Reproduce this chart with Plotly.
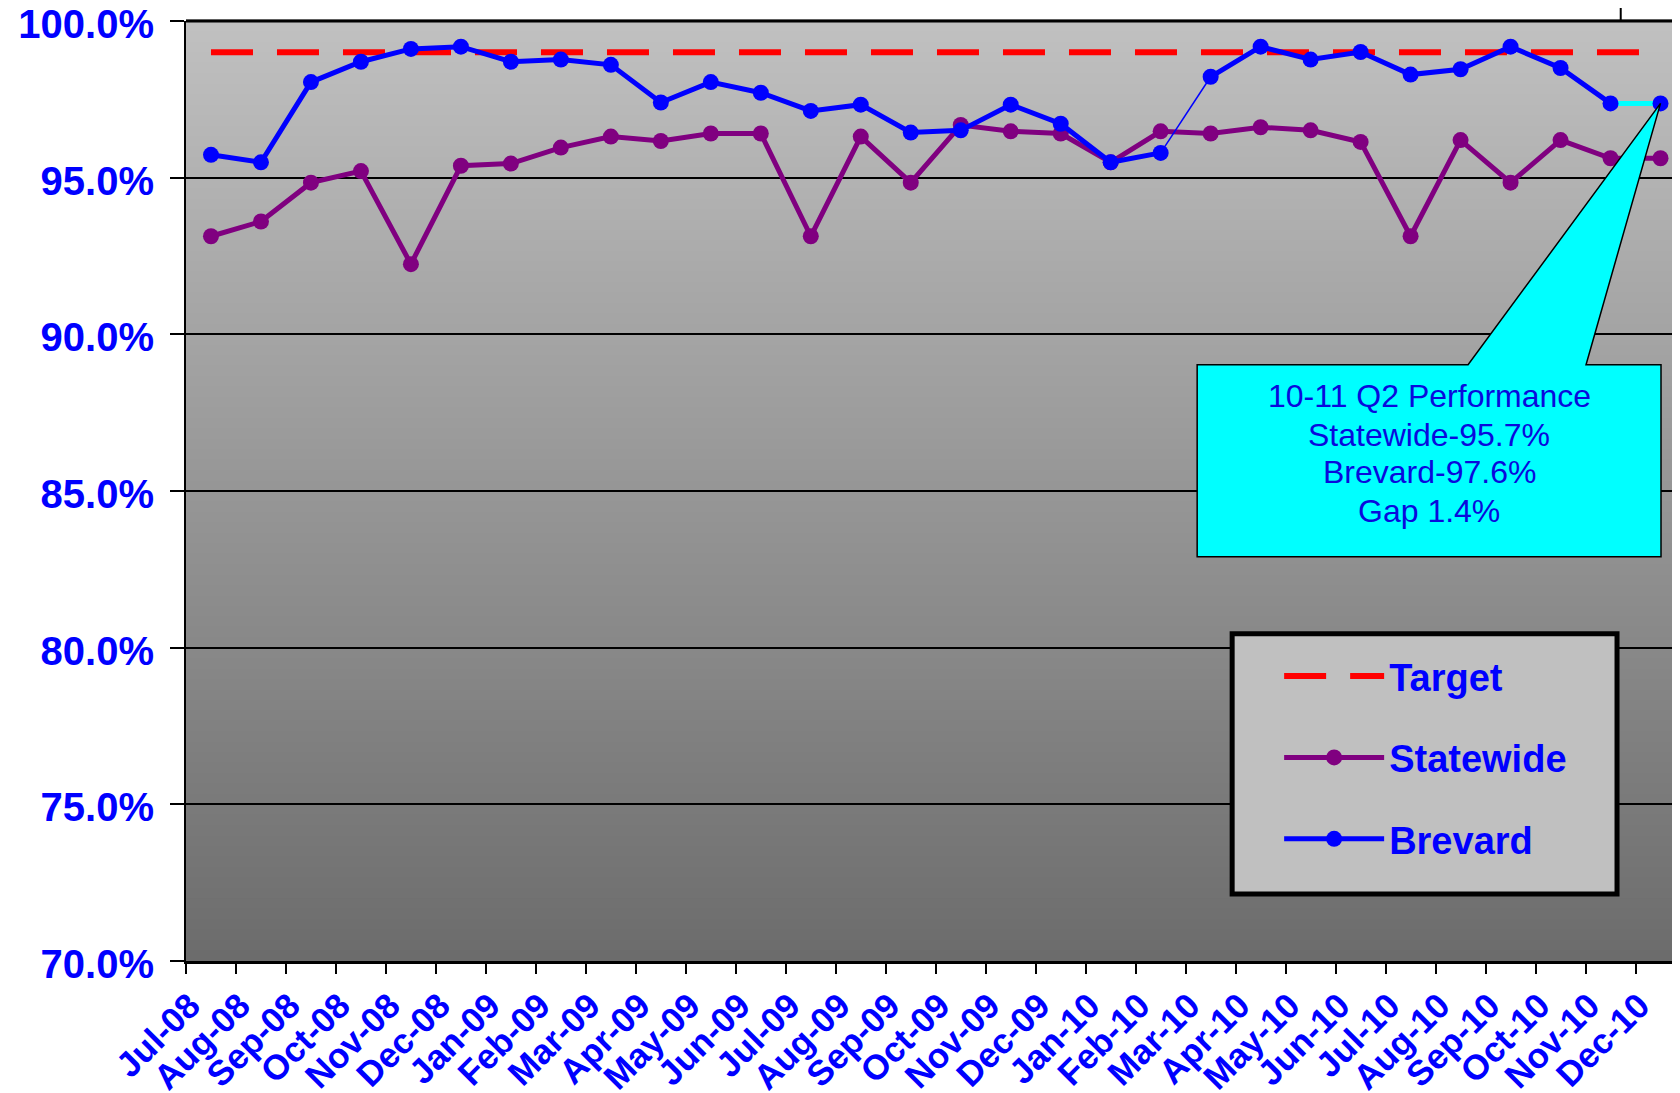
import plotly.graph_objects as go

# ---------------- data ----------------
months = ["Jul-08", "Aug-08", "Sep-08", "Oct-08", "Nov-08", "Dec-08",
          "Jan-09", "Feb-09", "Mar-09", "Apr-09", "May-09", "Jun-09",
          "Jul-09", "Aug-09", "Sep-09", "Oct-09", "Nov-09", "Dec-09",
          "Jan-10", "Feb-10", "Mar-10", "Apr-10", "May-10", "Jun-10",
          "Jul-10", "Aug-10", "Sep-10", "Oct-10", "Nov-10", "Dec-10"]

target = [99.0, 99.0, 99.0, 99.0, 99.0, 99.0, 99.0, 99.0, 99.0, 99.0,
          99.0, 99.0, 99.0, 99.0, 99.0, 99.0, 99.0, 99.0, 99.0, 99.0,
          99.0, 99.0, 99.0, 99.0, 99.0, 99.0, 99.0, 99.0, 99.0, 99.0]

statewide = [93.13, 93.60, 94.84, 95.21, 92.24, 95.38, 95.45, 95.96, 96.31, 96.17,
             96.41, 96.41, 93.13, 96.31, 94.84, 96.68, 96.48, 96.41, 95.49, 96.48,
             96.41, 96.61, 96.51, 96.14, 93.13, 96.20, 94.84, 96.20, 95.62, 95.62]

brevard = [95.73, 95.49, 98.05, 98.70, 99.11, 99.18, 98.70, 98.77, 98.60, 97.40,
           98.05, 97.71, 97.13, 97.33, 96.44, 96.51, 97.33, 96.72, 95.49, 95.79,
           98.22, 99.18, 98.77, 99.01, 98.29, 98.46, 99.18, 98.50, 97.37, 97.37]

callout_lines = ["10-11 Q2 Performance", "Statewide-95.7%", "Brevard-97.6%", "Gap 1.4%"]

# ---------------- styles ----------------
FONT = "Liberation Sans, Arial, sans-serif"
BLUE = "#0000FF"
PURPLE = "#800080"
RED = "#FF0000"
CYAN = "#00FFFF"
LW = 5
MS = 16

# plot-area geometry in screen pixels (page has an 8px body margin)
PL, PT, PW, PH = 185.5, 21.4, 1494.5, 939.6


def px(xp):
    return (xp - PL) / PW


def py(yp):
    return 1 - (yp - PT) / PH


fig = go.Figure()

fig.add_trace(go.Scatter(
    x=months, y=target, name="Target", mode="lines",
    line=dict(color=RED, width=6, dash="42px,24px"),
    legendgroup="t", hoverinfo="skip"))

fig.add_trace(go.Scatter(
    x=months, y=statewide, name="Statewide", mode="lines+markers",
    line=dict(color=PURPLE, width=LW), marker=dict(color=PURPLE, size=MS),
    legendgroup="s"))

# Brevard: thick first part
fig.add_trace(go.Scatter(
    x=months[0:20], y=brevard[0:20], name="Brevard", mode="lines+markers",
    line=dict(color=BLUE, width=LW), marker=dict(color=BLUE, size=MS),
    legendgroup="b"))
# thin connector Feb-10 -> Mar-10
fig.add_trace(go.Scatter(
    x=months[19:21], y=brevard[19:21], mode="lines", showlegend=False,
    line=dict(color=BLUE, width=1.5), legendgroup="b", hoverinfo="skip"))
# cyan connector Nov-10 -> Dec-10
fig.add_trace(go.Scatter(
    x=months[28:30], y=brevard[28:30], mode="lines", showlegend=False,
    line=dict(color=CYAN, width=LW), legendgroup="b", hoverinfo="skip"))
# thick second part
fig.add_trace(go.Scatter(
    x=months[20:29], y=brevard[20:29], mode="lines+markers", showlegend=False,
    line=dict(color=BLUE, width=LW), marker=dict(color=BLUE, size=MS),
    legendgroup="b"))
# last point
fig.add_trace(go.Scatter(
    x=months[29:30], y=brevard[29:30], mode="markers", showlegend=False,
    marker=dict(color=BLUE, size=MS), legendgroup="b"))

# ---------------- background gradient ----------------
shapes = []
N = 90
top_c, bot_c = 192, 108
for i in range(N):
    f = (i + 0.5) / N
    c = int(round(bot_c + (top_c - bot_c) * f))
    shapes.append(dict(type="rect", xref="paper", yref="paper",
                       x0=0, x1=1, y0=i / N, y1=(i + 1) / N + 0.002,
                       fillcolor=f"rgb({c},{c},{c})", line=dict(width=0),
                       layer="below"))

# top border of plot area
shapes.append(dict(type="line", xref="paper", yref="paper", x0=0, x1=1, y0=1, y1=1,
                   line=dict(color="black", width=3), layer="above"))
# small vertical line above plot (frame of outer element)
shapes.append(dict(type="line", xref="paper", yref="paper", x0=px(1620.7), x1=px(1620.7),
                   y0=1, y1=1.03, line=dict(color="black", width=2), layer="above"))

# callout (box + wedge pointing at last Brevard point)
tip_x = len(months) - 1
tip_y = brevard[-1]
path = (f"M 19.73,89.03 L 25.15,89.03 L {tip_x},{tip_y} L 27.51,89.03 "
        f"L 29.01,89.03 L 29.01,82.90 L 19.73,82.90 Z")
shapes.append(dict(type="path", xref="x", yref="y", path=path,
                   fillcolor=CYAN, line=dict(color="black", width=1.5), layer="above"))

# legend box
shapes.append(dict(type="rect", xref="paper", yref="paper",
                   x0=px(1232), x1=px(1617), y0=py(894), y1=py(634),
                   fillcolor="#C0C0C0", line=dict(color="black", width=5), layer="above"))

annotations = []
line_y = [396.4, 435.0, 472.5, 511.0]
for txt, yy in zip(callout_lines, line_y):
    annotations.append(dict(
        xref="paper", yref="paper", x=px(1429), y=py(yy),
        text=txt, showarrow=False, align="center",
        xanchor="center", yanchor="middle",
        font=dict(family=FONT, size=32, color="#0A0ADC")))

fig.update_layout(
    width=1672, height=1085,
    margin=dict(l=PL - 8, r=0, t=PT - 8, b=132, pad=0),
    paper_bgcolor="white", plot_bgcolor="#A0A0A0",
    font=dict(family=FONT, color=BLUE),
    shapes=shapes, annotations=annotations,
    showlegend=True,
    legend=dict(
        x=px(1279), y=py(645),
        xanchor="left", yanchor="top",
        bgcolor="rgba(0,0,0,0)", borderwidth=0,
        font=dict(family=FONT, size=38, color=BLUE, weight="bold"),
        traceorder="grouped", tracegroupgap=29, itemwidth=100,
    ),
)

fig.update_xaxes(
    type="category", range=[-0.5, 29.39], tickson="boundaries",
    ticks="outside", ticklen=10, tickwidth=2, tickcolor="black",
    showline=True, linecolor="black", linewidth=3,
    showgrid=False, zeroline=False,
    tickangle=-45, ticklabelstandoff=7, ticklabelshift=-21,
    ticklabeloverflow="allow",
    tickfont=dict(family=FONT, size=35, color=BLUE, weight="bold"),
    automargin=False,
)

fig.update_yaxes(
    range=[70, 100], tick0=70, dtick=5, tickformat=".1f", ticksuffix="%",
    ticks="outside", ticklen=14, tickwidth=2, tickcolor="black",
    showline=True, linecolor="black", linewidth=2,
    showgrid=True, gridcolor="black", gridwidth=2, zeroline=False,
    ticklabelstandoff=8, ticklabelshift=3, ticklabeloverflow="allow",
    tickfont=dict(family=FONT, size=40, color=BLUE, weight="bold"),
    automargin=False,
)

fig.write_html("out.html")
